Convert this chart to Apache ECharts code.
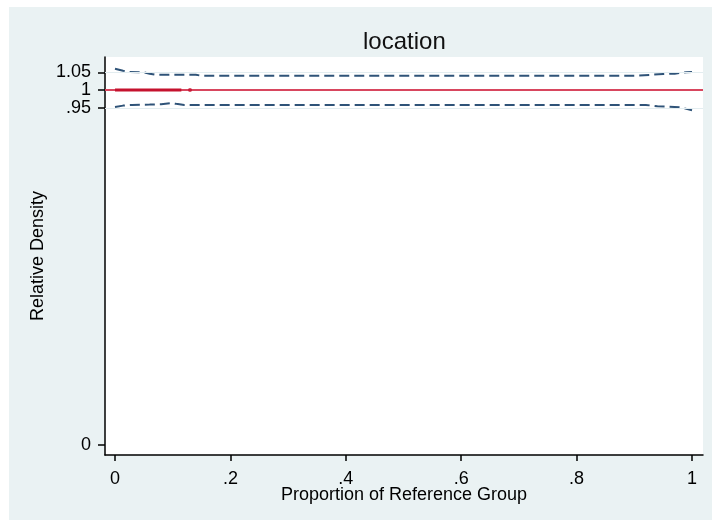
<!DOCTYPE html>
<html>
<head>
<meta charset="utf-8">
<script src="https://cdn.jsdelivr.net/npm/echarts@6/dist/echarts.min.js"></script>
<style>
  html, body { margin: 0; padding: 0; background: #ffffff; }
  #bg { position: absolute; left: 9px; top: 7px; width: 703px; height: 513px; background: #eaf2f3; }
  #chart { position: absolute; left: 0; top: 0; width: 712px; height: 523px; }
</style>
</head>
<body>
<div id="bg"></div>
<div id="chart"></div>
<script>
// ---- data ----
const xTicks = [0, 0.2, 0.4, 0.6, 0.8, 1];
const xTickLabels = ['0', '.2', '.4', '.6', '.8', '1'];
const yTicks = [0, 0.95, 1, 1.05];
const yTickLabels = ['0', '.95', '1', '1.05'];

const upperX = [0, 0.014, 0.025, 0.05, 0.06, 0.07, 0.14, 0.15, 0.3, 0.5, 0.7, 0.9, 0.93, 0.95, 0.97, 0.99, 1.0];
const upperY = [1.060, 1.054, 1.051, 1.050, 1.046, 1.043, 1.043, 1.040, 1.040, 1.040, 1.040, 1.040, 1.043, 1.045, 1.046, 1.050, 1.051];

const lowerX = [0, 0.014, 0.03, 0.06, 0.08, 0.097, 0.106, 0.12, 0.3, 0.5, 0.7, 0.92, 0.94, 0.96, 0.98, 1.0];
const lowerY = [0.952, 0.956, 0.958, 0.959, 0.960, 0.963, 0.961, 0.958, 0.958, 0.958, 0.958, 0.958, 0.954, 0.953, 0.951, 0.943];

const densX = [0, 1];
const densY = [1, 1];
const densHeavyX = [0, 0.115];
const densHeavyY = [1, 1];
const densDotX = [0.13];
const densDotY = [1];

const refLine = 1;
const gridLines = [0.95, 1.05];

const FONT = 'Liberation Sans, Arial, sans-serif';
const zip = (xs, ys) => xs.map((x, i) => [x, ys[i]]);
const fmt = (vals, labs) => (v) => {
  for (let i = 0; i < vals.length; i++) if (Math.abs(v - vals[i]) < 1e-9) return labs[i];
  return '';
};
// split y ticks over two overlaid axes so that none of the tightly packed labels gets dropped
const yTicksA = yTicks.filter((v, i) => i % 2 === 0);
const yTicksB = yTicks.filter((v, i) => i % 2 === 1);
const Y_MIN = -0.02817, Y_MAX = 1.09296;

function yAxisDef(ticks, showLine, withName) {
  const ax = {
    type: 'value', position: 'left', offset: 0,
    min: Y_MIN, max: Y_MAX,
    axisLine: { show: showLine, onZero: false, lineStyle: { color: '#000', width: 1.5 } },
    axisTick: { show: true, customValues: ticks, length: 7, lineStyle: { color: '#000', width: 1.5 } },
    axisLabel: { customValues: ticks, formatter: fmt(yTicks, yTickLabels), fontSize: 18, color: '#000', margin: 14, fontFamily: FONT, showMinLabel: true, showMaxLabel: true, hideOverlap: false },
    splitLine: { show: false }
  };
  if (withName) {
    ax.name = 'Relative Density';
    ax.nameLocation = 'middle';
    ax.nameGap = 58;
    ax.nameMoveOverlap = false;
    ax.nameTextStyle = { fontSize: 18, color: '#000', fontFamily: FONT };
  }
  return ax;
}

const chart = echarts.init(document.getElementById('chart'), null, { renderer: 'canvas' });
chart.setOption({
  animation: false,
  backgroundColor: 'transparent',
  textStyle: { fontFamily: FONT },
  title: {
    text: 'location',
    left: 363, top: 30, padding: 0,
    textStyle: { fontFamily: FONT, fontSize: 24, fontWeight: 'normal', color: '#111' }
  },
  grid: { left: 105, top: 57, right: 9, bottom: 68, show: true, backgroundColor: '#ffffff', borderWidth: 0 },
  xAxis: {
    type: 'value',
    min: -0.01733, max: 1.01906,
    axisLine: { show: true, onZero: false, lineStyle: { color: '#000', width: 1.5 } },
    axisTick: { show: true, customValues: xTicks, length: 6, lineStyle: { color: '#000', width: 1.5 } },
    axisLabel: { customValues: xTicks, formatter: fmt(xTicks, xTickLabels), fontSize: 18, color: '#000', margin: 15, fontFamily: FONT, showMinLabel: true, showMaxLabel: true, hideOverlap: false },
    splitLine: { show: false },
    name: 'Proportion of Reference Group',
    nameLocation: 'middle', nameGap: 31, nameMoveOverlap: false,
    nameTextStyle: { fontSize: 18, color: '#000', fontFamily: FONT }
  },
  yAxis: [yAxisDef(yTicksA, true, true), yAxisDef(yTicksB, false, false)],
  series: [
    {
      type: 'line', name: 'grid', data: [], silent: true,
      markLine: {
        silent: true, symbol: 'none', label: { show: false },
        lineStyle: { color: '#e3edf0', width: 1, type: 'solid' },
        data: gridLines.map(v => ({ yAxis: v }))
      }
    },
    {
      type: 'line', name: 'upper', data: zip(upperX, upperY), showSymbol: false,
      lineStyle: { color: '#2f5378', width: 2, type: [10, 5] }
    },
    {
      type: 'line', name: 'lower', data: zip(lowerX, lowerY), showSymbol: false,
      lineStyle: { color: '#2f5378', width: 2, type: [10, 5] }
    },
    {
      type: 'line', name: 'ref', data: [], silent: true, z: 3,
      markLine: {
        silent: true, symbol: 'none', label: { show: false },
        lineStyle: { color: '#d8465e', width: 2, type: 'solid' },
        data: [{ yAxis: refLine }]
      }
    },
    {
      type: 'line', name: 'density', data: zip(densX, densY), showSymbol: false, z: 4,
      lineStyle: { color: '#a8505a', width: 1.8 }
    },
    {
      type: 'line', name: 'densityHeavy', data: zip(densHeavyX, densHeavyY), showSymbol: false, z: 5,
      lineStyle: { color: '#c5122e', width: 3 }
    },
    {
      type: 'scatter', name: 'densityDot', data: zip(densDotX, densDotY), z: 5,
      symbolSize: 4, itemStyle: { color: '#c5122e' }
    }
  ]
});
</script>
</body>
</html>
